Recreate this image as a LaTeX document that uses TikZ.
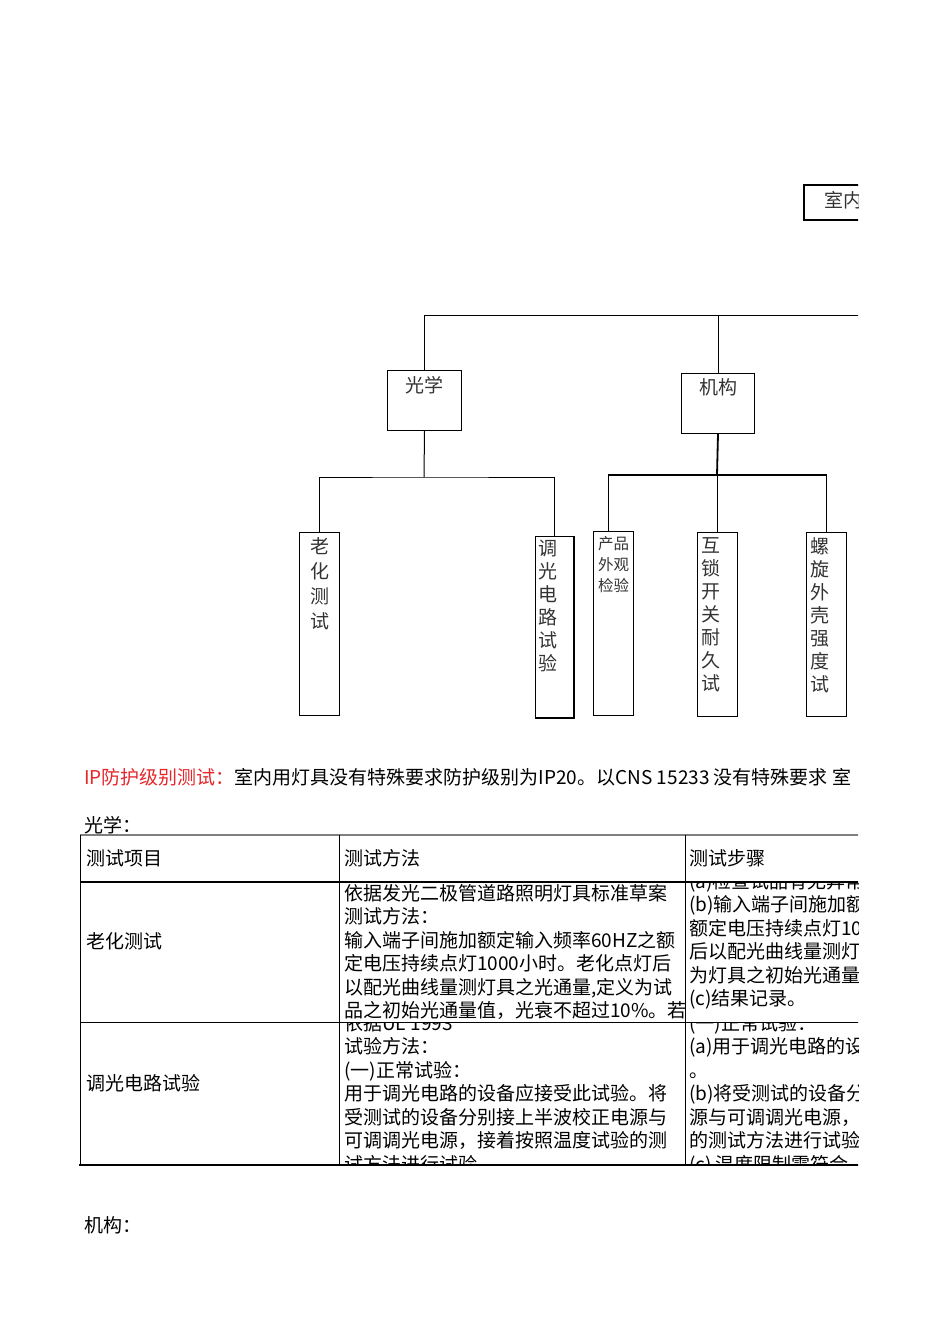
\documentclass[tikz,border=0pt]{standalone}
\usepackage{fontspec}
\setmainfont{Noto Sans CJK SC}
\usepackage{xcolor}
\usetikzlibrary{positioning}
\definecolor{warnRed}{HTML}{E5262B}
\definecolor{ruleGray}{HTML}{7F7F7F}

\begin{document}
\begin{tikzpicture}[
    x=1pt,y=-1pt,
    catbox/.style={draw,line width=1pt,anchor=north west,inner sep=0pt},
    leafbox/.style={draw,line width=1pt,anchor=north west,inner sep=0pt,
                    minimum width=40pt},
    boxtext/.style={font=\fontsize{19}{23}\selectfont,text=black!80,
                    align=center,inner sep=0pt},
    treeline/.style={line width=1pt},
    busline/.style={line width=1.8pt},
    gridline/.style={line width=1pt},
    gridthick/.style={line width=2pt},
    celltext/.style={font=\fontsize{19}{23.5}\selectfont,anchor=north west,
                     align=left,inner sep=0pt},
    plaintext/.style={font=\fontsize{19}{23.5}\selectfont,anchor=base west,
                      inner sep=0pt}
  ]
  \useasboundingbox (0,0) rectangle (950,1344);
  \begin{scope}
  \clip (0,0) rectangle (858,1344);

  % root box (cut at the page edge)
  \node[catbox,minimum width=120pt,minimum height=35pt,line width=1.6pt] (root) at (803,184) {};
  \node[boxtext,anchor=west] (roottxt) at (824,200) {室内};

  % first level
  \node[catbox,minimum width=74pt,minimum height=60pt] (optics) at (387,370) {};
  \node[boxtext,below=6pt of optics.north] (opticstxt) {光学};
  \node[catbox,minimum width=73pt,minimum height=60pt] (mech) at (681,373) {};
  \node[boxtext,below=5pt of mech.north] (mechtxt) {机构};

  % leaves of optics
  \node[leafbox,minimum height=183pt] (aging) at (299,532) {};
  \node[boxtext,below=5pt of aging.north,font=\fontsize{19}{25}\selectfont] (agingtxt)
    {老\\化\\测\\试};
  \node[leafbox,minimum width=38pt,minimum height=181pt] (dimming) at (535,536) {};
  \draw[line width=1.4pt] (dimming.north east) -- (dimming.south east) -- (dimming.south west);
  \node[boxtext,below=3.5pt of dimming.north,xshift=-7pt] (dimmingtxt)
    {调\\光\\电\\路\\试\\验};

  % leaves of mechanics
  \node[leafbox,minimum height=184pt] (look) at (593,531) {};
  \node[boxtext,below=5pt of look.north,font=\fontsize{15.5}{21}\selectfont] (looktxt)
    {产品\\外观\\检验};
  \node[leafbox,minimum height=184pt] (interlock) at (697,532) {};
  \node[boxtext,below=5pt of interlock.north,xshift=-7pt] (interlocktxt)
    {互\\锁\\开\\关\\耐\\久\\试};
  \node[leafbox,minimum height=184pt] (screw) at (806,532) {};
  \node[boxtext,below=5pt of screw.north,xshift=-7pt] (screwtxt)
    {螺\\旋\\外\\壳\\强\\度\\试};

  % connectors
  \coordinate (rootbus) at (870,315);
  \coordinate (obus) at (424,477);
  \coordinate (mbus) at (717,475);
  \draw[treeline] (optics.north) |- (rootbus);
  \draw[treeline] (mech.north) -- (mech.north |- rootbus);
  \draw[treeline] (optics.south) -- (obus);
  \draw[treeline] (aging.north) |- (obus) -| (dimming.north);
  \draw[busline] (mech.south) -- (mbus);
  \draw[busline] ([xshift=-5pt]look.north) |- (mbus) -| (screw.north);
  \draw[busline] (interlock.north) -- (interlock.north |- mbus);

  % notes
  \node[plaintext] (ipnote) at (84,784)
    {\textcolor{warnRed}{IP防护级别测试：}室内用灯具没有特殊要求防护级别为IP20。以CNS 15233 没有特殊要求 室};
  \node[plaintext] (opticshead) at (84,832) {光学：};
  \node[plaintext] (mechhead) at (84,1232) {机构：};

  % table
  \draw[line width=1.6pt,ruleGray] (80,835) -- (870,835);
  \draw[gridline] (80,835) -- (80,1165);
  \draw[gridline] (339,835) -- (339,1165);
  \draw[gridline] (685,835) -- (685,1165);
  \draw[gridthick] (80,882) -- (870,882);
  \draw[gridline] (80,1022) -- (870,1022);
  \draw[gridthick] (79,1165) -- (870,1165);

  \node[plaintext] (hitem) at (86,865) {测试项目};
  \node[plaintext] (hmethod) at (344,865) {测试方法};
  \node[plaintext] (hsteps) at (689,865) {测试步骤};

  \node[plaintext] (agingitem) at (86,948) {老化测试};
  \begin{scope}
    \clip (340,883) rectangle (684,1021);
    \node[celltext] (agingmethod) at (344,884)
      {依据发光二极管道路照明灯具标准草案\\
       测试方法：\\
       输入端子间施加额定输入频率60HZ之额\\
       定电压持续点灯1000小时。老化点灯后\\
       以配光曲线量测灯具之光通量,定义为试\\
       品之初始光通量值，光衰不超过10\%。若};
  \end{scope}
  \begin{scope}
    \clip (686,883) rectangle (858,1021);
    \node[celltext] (agingsteps) at (689,872)
      {(a)检查试品有无异常\\
       (b)输入端子间施加额\\
       额定电压持续点灯1000\\
       后以配光曲线量测灯具\\
       为灯具之初始光通量值\\
       (c)结果记录。};
  \end{scope}

  \node[plaintext] (dimitem) at (86,1090) {调光电路试验};
  \begin{scope}
    \clip (340,1023) rectangle (684,1164);
    \node[celltext] (dimmethod) at (344,1014)
      {依据UL 1993\\
       试验方法：\\
       (一)正常试验：\\
       用于调光电路的设备应接受此试验。将\\
       受测试的设备分别接上半波校正电源与\\
       可调调光电源，接着按照温度试验的测\\
       试方法进行试验};
  \end{scope}
  \begin{scope}
    \clip (686,1023) rectangle (858,1164);
    \node[celltext] (dimsteps) at (689,1014)
      {(一)正常试验：\\
       (a)用于调光电路的设备\\
       。\\
       (b)将受测试的设备分别\\
       源与可调调光电源，接\\
       的测试方法进行试验。\\
       (c) 温度限制需符合};
  \end{scope}
  \end{scope}
\end{tikzpicture}
\end{document}
